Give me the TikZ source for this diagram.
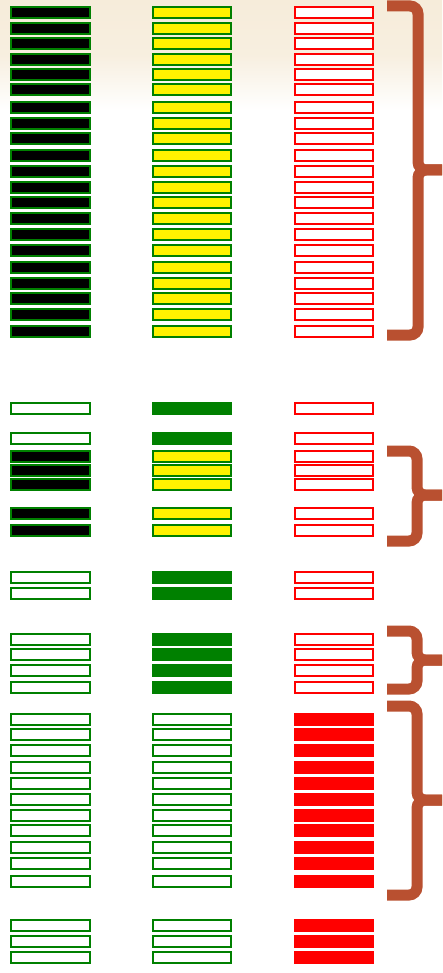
\documentclass[tikz,border=0pt]{standalone}
\begin{document}
\begin{tikzpicture}[x=1pt,y=-1pt,
  bar/.style={rectangle,inner sep=0pt,outer sep=0pt,minimum width=78.6pt,minimum height=10.6pt,line width=2pt},
  blk/.style={bar,draw=gr,fill=black},
  yel/.style={bar,draw=gr,fill=yellow},
  rout/.style={bar,draw=red,fill=white},
  wout/.style={bar,draw=gr,fill=white},
  gfill/.style={bar,fill=gr,minimum width=80.6pt,minimum height=12.6pt,line width=0pt},
  rfill/.style={bar,fill=red,minimum width=80.6pt,minimum height=12.6pt,line width=0pt},
  brace/.style={draw=bracecol,line width=11pt,rounded corners=8pt,line cap=butt}]
\definecolor{gr}{RGB}{0,128,0}
\definecolor{bracecol}{RGB}{185,80,48}
\definecolor{parch}{RGB}{246,236,218}
\useasboundingbox (0,0) rectangle (442,973);
\fill[white] (0,0) rectangle (442,973);
\shade[top color=parch,bottom color=white,middle color=parch!85] (0,0) rectangle (442,110);
% group A: black / yellow / red outline
\foreach \y [count=\i] in {6,22,37,53,68,83,101,117,132,149,165,181,196,212,228,244,261,277,292,308,325}{
  \node[blk] (a1-\i) at (50.35,{\y+6.3}) {};
  \node[yel] (a2-\i) at (192,{\y+6.3}) {};
  \node[rout] (a3-\i) at (334,{\y+6.3}) {};
}
% white / solid green / red outline
\foreach \y [count=\i] in {402,432,571,587,633,648,664,681}{
  \node[wout] (b1-\i) at (50.35,{\y+6.3}) {};
  \node[gfill] (b2-\i) at (192,{\y+6.3}) {};
  \node[rout] (b3-\i) at (334,{\y+6.3}) {};
}
% black / yellow / red outline (middle)
\foreach \y [count=\i] in {450,464,478,507,524}{
  \node[blk] (c1-\i) at (50.35,{\y+6.3}) {};
  \node[yel] (c2-\i) at (192,{\y+6.3}) {};
  \node[rout] (c3-\i) at (334,{\y+6.3}) {};
}
% white / white / solid red
\foreach \y [count=\i] in {713,728,744,761,777,793,809,824,841,857,875,919,935,951}{
  \node[wout] (d1-\i) at (50.35,{\y+6.3}) {};
  \node[wout] (d2-\i) at (192,{\y+6.3}) {};
  \node[rfill] (d3-\i) at (334,{\y+6.3}) {};
}
% braces
\draw[brace] (387,6) -- (418,6) -- (418,170) -- (442,170);
\draw[brace] (387,335) -- (418,335) -- (418,170) -- (442,170);
\draw[brace] (387,451) -- (417,451) -- (417,495) -- (442,495);
\draw[brace] (387,541) -- (417,541) -- (417,495) -- (442,495);
\draw[brace] (387,631) -- (417,631) -- (417,660) -- (442,660);
\draw[brace] (387,689) -- (417,689) -- (417,660) -- (442,660);
\draw[brace] (387,706) -- (417,706) -- (417,800) -- (442,800);
\draw[brace] (387,895) -- (417,895) -- (417,800) -- (442,800);
\end{tikzpicture}
\end{document}
